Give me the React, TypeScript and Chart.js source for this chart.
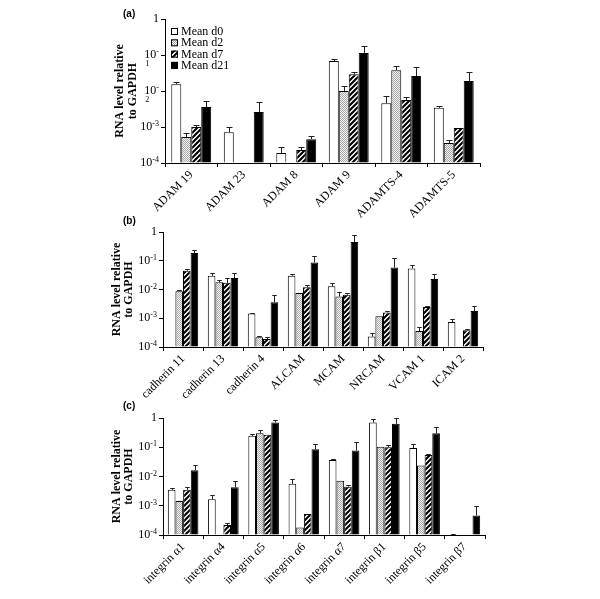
import React, { useEffect, useRef } from 'react';
import { Chart, registerables } from 'chart.js';
Chart.register(...registerables);

const seriesNames = ['Mean d0', 'Mean d2', 'Mean d7', 'Mean d21'];
const yTickPowers = [0, -1, -2, -3, -4];

// Panel (a)
const catsA = ['ADAM 19', 'ADAM 23', 'ADAM 8', 'ADAM 9', 'ADAMTS-4', 'ADAMTS-5'];
const aD0 = [0.0155, 7.2e-4, 1.9e-4, 0.068, 4.6e-3, 3.4e-3];
const aD2 = [5.3e-4, 1.05e-4, null, 0.010, 0.038, 3.6e-4];
const aD7 = [1.0e-3, null, 2.3e-4, 0.029, 5.6e-3, 9.4e-4];
const aD21 = [3.6e-3, 2.6e-3, 4.6e-4, 0.114, 0.026, 0.019];
const aErrD0 = [0.0178, 1.0e-3, 2.8e-4, 0.078, 7.2e-3, 3.8e-3];
const aErrD2 = [6.8e-4, null, null, 0.0138, 0.049, 4.4e-4];
const aErrD7 = [1.14e-3, null, 2.8e-4, 0.034, 6.8e-3, null];
const aErrD21 = [5.2e-3, 4.9e-3, 5.6e-4, 0.178, 0.047, 0.034];

// Panel (b)
const catsB = ['cadherin 11', 'cadherin 13', 'cadherin 4', 'ALCAM', 'MCAM', 'NRCAM', 'VCAM 1', 'ICAM 2'];
const bD0 = [null, 0.030, 1.45e-3, 0.030, 0.0129, 2.3e-4, 0.054, 7.4e-4];
const bD2 = [8.7e-3, 0.018, 2.2e-4, 7.5e-3, 5.7e-3, 1.17e-3, 3.6e-4, null];
const bD7 = [0.045, 0.017, 1.9e-4, 0.012, 6.6e-3, 1.6e-3, 2.45e-3, 3.8e-4];
const bD21 = [0.185, 0.025, 3.6e-3, 0.087, 0.45, 0.058, 0.023, 1.78e-3];
const bErrD0 = [null, 0.039, 1.55e-3, 0.036, 0.0166, 2.96e-4, 0.069, 9.8e-4];
const bErrD2 = [0.0100, 0.022, 2.4e-4, null, 8.3e-3, null, 5.0e-4, null];
const bErrD7 = [0.053, 0.0245, 2.3e-4, 0.0145, 7.4e-3, 1.78e-3, 2.75e-3, 4.3e-4];
const bErrD21 = [0.24, 0.038, 6.6e-3, 0.148, 0.79, 0.12, 0.035, 2.6e-3];

// Panel (c)
const catsC = ['integrin α1', 'integrin α4', 'integrin α5', 'integrin α6', 'integrin α7', 'integrin β1', 'integrin β5', 'integrin β7'];
const cD0 = [3.5e-3, 1.66e-3, 0.245, 5.6e-3, 0.037, 0.70, 0.094, 1.0e-4];
const cD2 = [1.46e-3, null, 0.30, 1.8e-4, 7.1e-3, 0.105, 0.024, null];
const cD7 = [3.5e-3, 2.2e-4, 0.266, 5.2e-4, 4.5e-3, 0.10, 0.054, null];
const cD21 = [0.0165, 4.3e-3, 0.70, 0.085, 0.077, 0.63, 0.30, 4.6e-4];
const cErrD0 = [4.0e-3, 2.3e-3, 0.28, 8.3e-3, 0.040, 0.91, 0.128, 1.1e-4];
const cErrD2 = [null, null, 0.40, null, null, null, null, null];
const cErrD7 = [4.5e-3, 2.6e-4, null, null, 5.2e-3, 0.115, 0.059, null];
const cErrD21 = [0.025, 7.2e-3, 0.84, 0.13, 0.148, 1.0, 0.49, 1.0e-3];

const SERIF = "'Liberation Serif', 'Times New Roman', serif";

function makeFills(): any[] {
  const stip = document.createElement('canvas');
  stip.width = 2; stip.height = 2;
  const s = stip.getContext('2d')!;
  s.fillStyle = '#f4f4f4'; s.fillRect(0, 0, 2, 2);
  s.fillStyle = '#a6a6a6'; s.fillRect(0, 0, 1, 1); s.fillRect(1, 1, 1, 1);
  const hatch = document.createElement('canvas');
  hatch.width = 5; hatch.height = 5;
  const h = hatch.getContext('2d')!;
  h.fillStyle = '#ffffff'; h.fillRect(0, 0, 5, 5);
  h.strokeStyle = '#000000'; h.lineWidth = 2.1;
  h.beginPath();
  h.moveTo(-1, 6); h.lineTo(6, -1);
  h.moveTo(-4, 4); h.lineTo(4, -4);
  h.moveTo(1, 9); h.lineTo(9, 1);
  h.stroke();
  const ctx = document.createElement('canvas').getContext('2d')!;
  return ['#ffffff', ctx.createPattern(stip, 'repeat'), ctx.createPattern(hatch, 'repeat'), '#000000'];
}

const errorPlugin = {
  id: 'errBars',
  afterDatasetsDraw(chart: any) {
    const ctx = chart.ctx;
    const ys = chart.scales.y;
    ctx.save();
    ctx.strokeStyle = '#222';
    ctx.lineWidth = 1;
    chart.data.datasets.forEach((ds: any, di: number) => {
      const meta = chart.getDatasetMeta(di);
      meta.data.forEach((bar: any, i: number) => {
        const e = ds.errTop[i];
        const v = ds.data[i];
        if (e == null || v == null) return;
        const yE = Math.round(ys.getPixelForValue(e)) + 0.5;
        const x = Math.round(bar.x) + 0.5;
        const cap = Math.max(2, bar.width * 0.3);
        ctx.beginPath();
        ctx.moveTo(x, bar.y);
        ctx.lineTo(x, yE);
        ctx.moveTo(x - cap, yE);
        ctx.lineTo(x + cap, yE);
        ctx.stroke();
      });
    });
    ctx.restore();
  },
};

const yLabelPlugin = {
  id: 'yLabels',
  afterDraw(chart: any) {
    const ctx = chart.ctx;
    const ys = chart.scales.y;
    const wrap = chart.options.plugins.yLabels?.wrap;
    ctx.save();
    ctx.fillStyle = '#000';
    ctx.textBaseline = 'middle';
    const xr = ys.right - 6;
    yTickPowers.forEach((p) => {
      const y = ys.getPixelForValue(Math.pow(10, p));
      if (p === 0) {
        ctx.font = `12px ${SERIF}`;
        ctx.textAlign = 'right';
        ctx.fillText('1', xr, y);
        return;
      }
      const digit = String(-p);
      ctx.font = `8px ${SERIF}`;
      if (wrap && (p === -1 || p === -2)) {
        const mw = ctx.measureText('-').width;
        ctx.textAlign = 'right';
        ctx.fillText('-', xr, y - 3);
        ctx.font = `12px ${SERIF}`;
        const tw = ctx.measureText('10').width;
        ctx.fillText('10', xr - mw, y);
        ctx.font = `8px ${SERIF}`;
        ctx.textAlign = 'left';
        ctx.fillText(digit, xr - mw - tw + 1, y + 9);
      } else {
        const ew = ctx.measureText('-' + digit).width;
        ctx.textAlign = 'right';
        ctx.fillText('-' + digit, xr, y - 3);
        ctx.font = `12px ${SERIF}`;
        ctx.fillText('10', xr - ew, y);
      }
    });
    ctx.restore();
  },
};

const legendPlugin = {
  id: 'boxLegend',
  afterDraw(chart: any) {
    if (!chart.options.plugins.boxLegend?.show) return;
    const ctx = chart.ctx;
    const area = chart.chartArea;
    ctx.save();
    ctx.font = `12px ${SERIF}`;
    ctx.textBaseline = 'middle';
    ctx.textAlign = 'left';
    chart.data.datasets.forEach((ds: any, i: number) => {
      const cy = area.top + 12.5 + i * 11.3;
      const bx = area.left + 6;
      ctx.fillStyle = ds.backgroundColor;
      ctx.fillRect(bx, cy - 3.5, 7, 7);
      ctx.strokeStyle = '#000';
      ctx.lineWidth = 1;
      ctx.strokeRect(bx + 0.5, cy - 3, 6, 6);
      ctx.fillStyle = '#000';
      ctx.fillText(ds.label, bx + 10, cy + 0.5);
    });
    ctx.restore();
  },
};

type PanelCfg = {
  top: number;
  height: number;
  area: { left: number; right: number; top: number; bottom: number };
  titleX: number;
  cats: string[];
  series: (number | null)[][];
  errs: (number | null)[][];
  legend: boolean;
  wrap: boolean;
};

const panels: PanelCfg[] = [
  {
    top: 0, height: 222, area: { left: 165, right: 480, top: 19, bottom: 163 }, titleX: 120,
    cats: catsA, series: [aD0, aD2, aD7, aD21], errs: [aErrD0, aErrD2, aErrD7, aErrD21], legend: true, wrap: true,
  },
  {
    top: 222, height: 178, area: { left: 163, right: 483, top: 232, bottom: 347 }, titleX: 116.7,
    cats: catsB, series: [bD0, bD2, bD7, bD21], errs: [bErrD0, bErrD2, bErrD7, bErrD21], legend: false, wrap: false,
  },
  {
    top: 400, height: 199, area: { left: 163, right: 485, top: 418, bottom: 535 }, titleX: 116.7,
    cats: catsC, series: [cD0, cD2, cD7, cD21], errs: [cErrD0, cErrD2, cErrD7, cErrD21], legend: false, wrap: false,
  },
];

function Panel({ cfg }: { cfg: PanelCfg }) {
  const ref = useRef<HTMLCanvasElement | null>(null);
  useEffect(() => {
    const fills = makeFills();
    const titleSize = 12;
    const lh = titleSize * 1.05;
    const yLeft = cfg.titleX - lh / 2;
    const yW = cfg.area.left - yLeft;
    const xH = cfg.top + cfg.height - cfg.area.bottom;
    const chart = new Chart(ref.current!, {
      type: 'bar',
      data: {
        labels: cfg.cats,
        datasets: cfg.series.map((s, i) => ({
          label: seriesNames[i],
          data: s,
          errTop: cfg.errs[i],
          backgroundColor: fills[i],
          borderColor: '#000',
          borderWidth: 1,
          base: 1e-4,
          categoryPercentage: 0.76,
          barPercentage: 1,
        })) as any,
      },
      options: {
        responsive: false,
        animation: false,
        devicePixelRatio: 1,
        events: [],
        layout: {
          padding: {
            left: yLeft,
            right: 600 - cfg.area.right,
            top: cfg.area.top - cfg.top,
            bottom: 0,
          },
        },
        plugins: {
          legend: { display: false },
          tooltip: { enabled: false },
          yLabels: { wrap: cfg.wrap },
          boxLegend: { show: cfg.legend },
        } as any,
        scales: {
          x: {
            grid: { display: true, drawOnChartArea: false, drawTicks: true, tickLength: 4, color: '#000', offset: true },
            border: { display: true, color: '#000', width: 1 },
            ticks: {
              autoSkip: false,
              maxRotation: 45,
              minRotation: 45,
              color: '#000',
              padding: 1,
              font: { family: SERIF, size: 12 },
            },
            afterFit: (s: any) => { s.height = xH; },
          },
          y: {
            type: 'logarithmic',
            min: 1e-4,
            max: 1,
            grid: { display: true, drawOnChartArea: false, drawTicks: true, tickLength: 4, color: '#000' },
            border: { display: true, color: '#000', width: 1 },
            ticks: { callback: () => '', color: 'rgba(0,0,0,0)', font: { size: 1 } },
            afterBuildTicks: (s: any) => {
              s.ticks = yTickPowers.map((p) => ({ value: Math.pow(10, p) }));
            },
            afterFit: (s: any) => { s.width = yW; },
            title: {
              display: true,
              text: ['RNA level relative', 'to GAPDH'],
              color: '#000',
              padding: 0,
              font: { family: SERIF, size: titleSize, weight: 'bold', lineHeight: 1.05 },
            },
          },
        },
      } as any,
      plugins: [errorPlugin, yLabelPlugin, legendPlugin],
    });
    return () => chart.destroy();
  }, []);
  return (
    <canvas
      ref={ref}
      width={600}
      height={cfg.height}
      style={{ position: 'absolute', left: 0, top: cfg.top, width: 600, height: cfg.height, display: 'block' }}
    />
  );
}

const panelLabels = [
  { text: '(a)', top: 8 },
  { text: '(b)', top: 215 },
  { text: '(c)', top: 400 },
];

export default function App() {
  return (
    <div style={{ position: 'absolute', left: 0, top: 0, width: 600, height: 599, background: '#fff', overflow: 'hidden' }}>
      {panels.map((p, i) => (
        <Panel key={i} cfg={p} />
      ))}
      {panelLabels.map((l, i) => (
        <div
          key={'l' + i}
          style={{
            position: 'absolute',
            left: 123,
            top: l.top,
            fontFamily: "'Liberation Sans', Arial, sans-serif",
            fontWeight: 'bold',
            fontSize: 10,
            lineHeight: '12px',
            color: '#000',
          }}
        >
          {l.text}
        </div>
      ))}
    </div>
  );
}
